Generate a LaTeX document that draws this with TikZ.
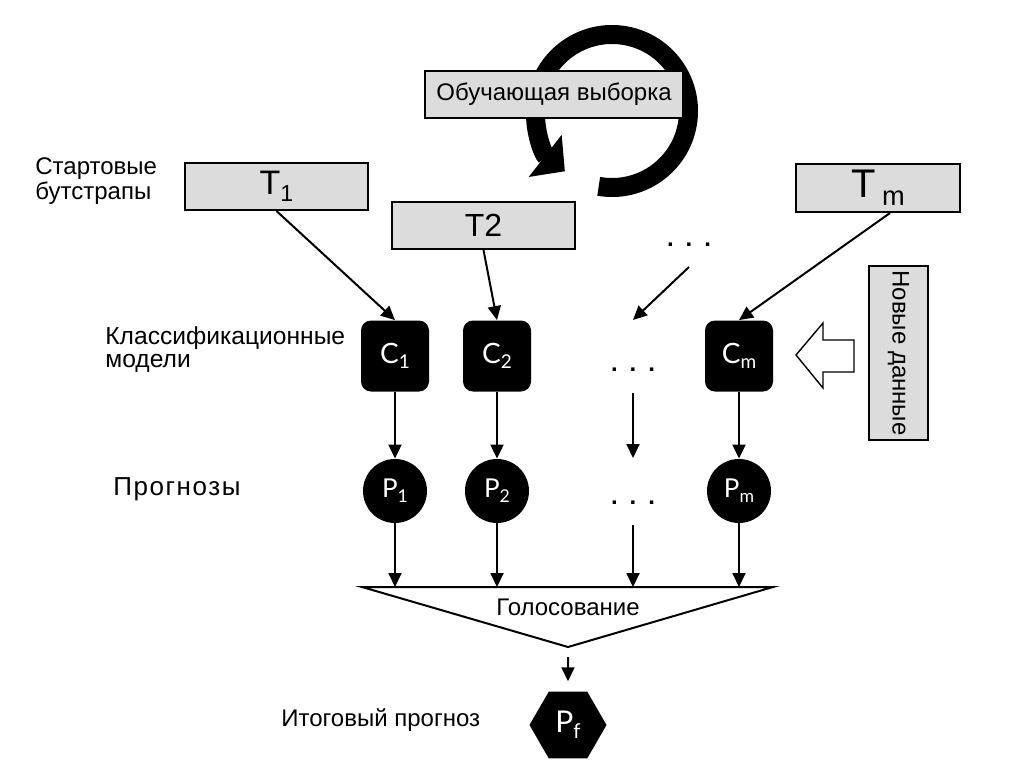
\documentclass[tikz,border=0pt]{standalone}
\usepackage{fontspec}
\setmainfont{Liberation Sans}
\newfontfamily\gillfont{Lato}
\usepackage{tikz}
\usetikzlibrary{arrows.meta,positioning,shapes.geometric}
\definecolor{boxgray}{RGB}{220,220,220}
\newcommand{\idx}[1]{\raisebox{-0.4ex}{\scalebox{0.68}{#1}}}

\begin{document}
\begin{tikzpicture}[
  x=0.5pt, y=-0.5pt,
  tbox/.style={draw=black, line width=1pt, fill=boxgray, inner sep=0pt,
    minimum width=91.5pt, minimum height=23.5pt},
  model/.style={rectangle, rounded corners=5pt, fill=black, text=white,
    minimum width=34pt, minimum height=35.5pt, inner sep=0pt,
    font=\gillfont\fontsize{14}{16}\selectfont},
  pred/.style={circle, fill=black, text=white, minimum size=32pt, inner sep=0pt,
    font=\gillfont\fontsize{13}{15}\selectfont},
  dots/.style={inner sep=0pt, font=\bfseries\fontsize{12}{14}\selectfont},
  lbl/.style={anchor=west, align=left, inner sep=0pt},
  arrow/.style={-{Triangle[length=7pt,width=6.5pt]}, line width=1pt},
]
  \useasboundingbox (0,0) rectangle (1024,776);

  % training set with the loop
  \draw[line width=9.5pt, -{Triangle[length=12.5pt,width=26pt]}]
    (612,111) ++(100:76.5) arc[start angle=100, end angle=-232, radius=76.5];
  \node[tbox, minimum width=129pt, font=\fontsize{12}{14}\selectfont] (train) at (554,94) {Обучающая выборка};

  % bootstraps
  \node[tbox, font=\fontsize{17}{19}\selectfont] (t1) at (276.5,186.5) {T\idx{1}};
  \node[tbox, font=\fontsize{16}{18}\selectfont] (t2) at (483.5,225.5) {T2};
  \node[tbox, minimum width=82pt, minimum height=24pt, font=\fontsize{20}{22}\selectfont] (tm) at (878,188) {T\,\idx{m}};
  \node[dots] (dtop) at (689,245) {.\enspace.\enspace.};

  % models
  \node[model] (c1) at (395,356) {C\idx{1}};
  \node[model] (c2) at (497,356) {C\idx{2}};
  \node[model] (cm) at (739,356) {C\idx{m}};
  \node[dots] (cdots) at (633,370) {.\enspace.\enspace.};
  \coordinate (cd) at (633,320);

  % new data
  \node[tbox, rotate=-90, minimum width=87pt, minimum height=29.5pt,
    font=\fontsize{12}{14}\selectfont] (newdata) at (898.5,353) {Новые данные};
  \draw[line width=0.7pt] (796,355) -- (823,323) -- (823,340) -- (854,340)
    -- (854,372) -- (823,372) -- (823,388) -- cycle;

  % predictions
  \node[pred] (p1) at (395,491) {P\idx{1}};
  \node[pred] (p2) at (497,491) {P\idx{2}};
  \node[pred] (pm) at (739,491) {P\idx{m}};
  \node[dots] (pdots) at (633,503) {.\enspace.\enspace.};

  % voting
  \coordinate (vl) at (362,587);
  \coordinate (vr) at (773,587);
  \coordinate (vb) at (568,647);
  \draw[line width=1pt, line join=miter] (vl) -- (vr) -- (vb) -- cycle;
  \node[font=\fontsize{12}{14}\selectfont] (vote) at (568,607) {Голосование};
  \node[regular polygon, regular polygon sides=6, fill=black, text=white,
    minimum size=38.5pt, inner sep=0pt, font=\gillfont\fontsize{15}{17}\selectfont] (pf) at (568,725) {P\idx{f}};

  \draw[arrow] (t1.south) -- (c1.north);
  \draw[arrow] (t2.south) -- (c2.north);
  \draw[arrow] ([xshift=6pt]tm.south) -- (cm.north);
  \draw[arrow] ([yshift=-11pt]dtop.center) -- (cd);
  \draw[arrow] (c1) -- (p1);
  \draw[arrow] (c2) -- (p2);
  \draw[arrow] (cm) -- (pm);
  \draw[arrow] ([yshift=-11.5pt]cdots.center) -- ([yshift=22.5pt]pdots.center);
  \draw[arrow] (p1) -- (p1 |- vl);
  \draw[arrow] (p2) -- (p2 |- vl);
  \draw[arrow] (pm) -- (pm |- vl);
  \draw[arrow] ([yshift=-11pt]pdots.center) -- (pdots |- vl);
  \draw[arrow, shorten <=5pt, shorten >=5pt] (vb) -- (pf.north);

  % row labels
  \node[lbl, font=\fontsize{12}{11}\selectfont] (lboot) at (35,181) {Стартовые\\бутстрапы};
  \node[lbl, font=\fontsize{12.3}{11.5}\selectfont] (lmod) at (105,350) {Классификационные\\модели};
  \node[lbl, font=\fontsize{13}{14}\selectfont\addfontfeature{LetterSpace=6}] (lpred) at (113,489) {Прогнозы};
  \node[lbl, font=\fontsize{12}{14}\selectfont] (lfin) at (281,720) {Итоговый прогноз};
\end{tikzpicture}
\end{document}
